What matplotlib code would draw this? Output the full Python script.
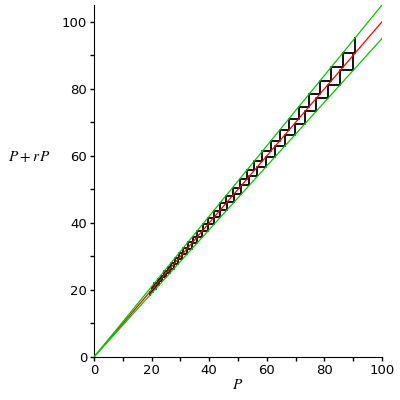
import numpy as np
import matplotlib
matplotlib.use('Agg')
import matplotlib.pyplot as plt
from matplotlib.ticker import MultipleLocator

plt.rcParams['mathtext.fontset'] = 'stix'

# model: P_{n+1} = P_n + r P_n
r_values = [0.05, -0.05]
p_start_growth = 20.0
n_growth = 31
p_start_decline = 90.0
n_decline = 30
p_range = [0, 100]


def cobweb(p0, r, n):
    xs, ys = [p0], [p0]
    p = p0
    for i in range(n):
        q = p + r*p
        xs += [p, q]
        ys += [q, q]
        p = q
    # last vertical step, no horizontal after it
    xs.append(p)
    ys.append(p + r*p)
    return xs, ys


fig = plt.figure(figsize=(4, 4), dpi=100)
ax = fig.add_axes([0.235, 0.1075, 0.72, 0.88])

P = np.array(p_range, dtype=float)
ax.plot(P, P, color='#ff0000', lw=0.9, zorder=3)
for r in r_values:
    ax.plot(P, P + r*P, color='#00c800', lw=0.9, zorder=3)

gx, gy = cobweb(p_start_growth, r_values[0], n_growth)
ax.plot(gx, gy, color='black', lw=1.3, zorder=2)
dx, dy = cobweb(p_start_decline, r_values[1], n_decline)
ax.plot(dx, dy, color='black', lw=1.3, zorder=2)

ax.set_xlim(0, 100)
ax.set_ylim(0, 105)
ax.spines['top'].set_visible(False)
ax.spines['right'].set_visible(False)
ax.xaxis.set_major_locator(MultipleLocator(20))
ax.xaxis.set_minor_locator(MultipleLocator(10))
ax.yaxis.set_major_locator(MultipleLocator(20))
ax.yaxis.set_minor_locator(MultipleLocator(10))
ax.tick_params(which='both', length=3, width=1, labelsize=9.5, pad=2)

ax.set_xlabel('$P$', fontsize=11, labelpad=0)
fig.text(0.02, 0.61, '$P + r\\,P$', fontsize=11, ha='left', va='center')

fig.savefig('out.png', dpi=100)
